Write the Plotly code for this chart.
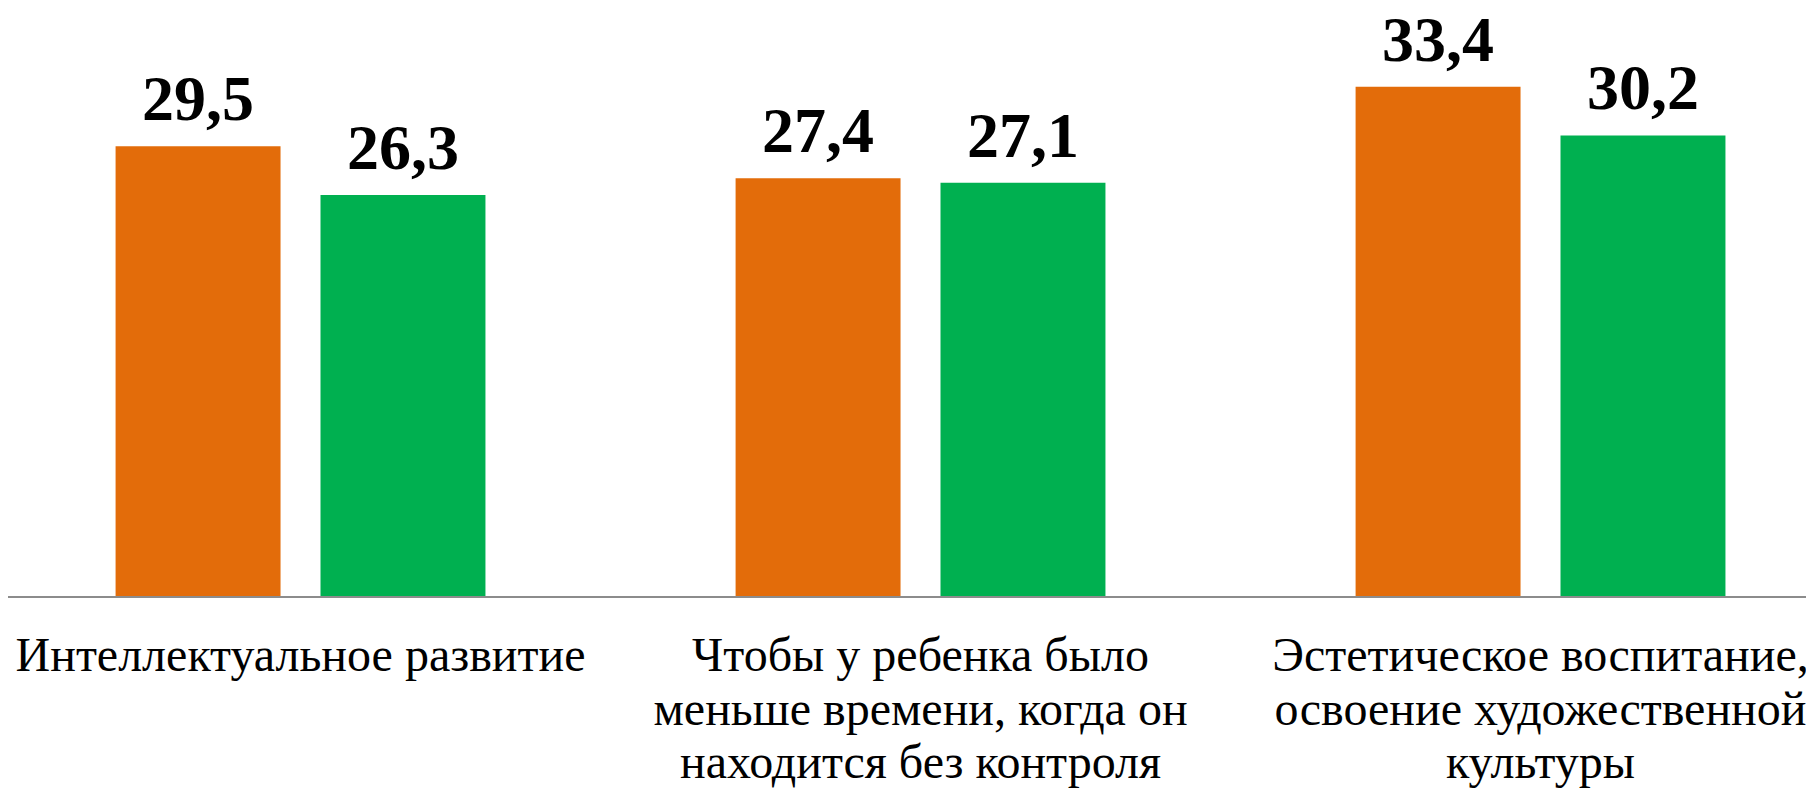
import plotly.graph_objects as go

categories = [
    "Интеллектуальное развитие",
    "Чтобы у ребенка было<br>меньше времени, когда он<br>находится без контроля",
    "Эстетическое воспитание,<br>освоение художественной<br>культуры",
]
series_a = [29.5, 27.4, 33.4]
series_b = [26.3, 27.1, 30.2]

orange = "#E36C0A"
green = "#00B050"
serif = "Times New Roman, Liberation Serif, serif"
bargap = 0.339

# tighter line spacing than plotly's default: small base size, big glyphs
ticktext = ["<br>".join(f"<span style='font-size:48px'>{ln}</span>" for ln in c.split("<br>"))
            for c in categories]

fig = go.Figure()
series = [(series_a, orange), (series_b, green)]
slot = (1 - bargap) / len(series)
for k, (vals, col) in enumerate(series):
    fig.add_trace(go.Bar(
        x=categories, y=vals,
        marker=dict(color=col, line=dict(width=0)),
    ))
    # value labels sit a bit higher than plotly's "outside" text
    for i, v in enumerate(vals):
        fig.add_annotation(
            x=i + (k - (len(series) - 1) / 2) * slot, y=v,
            text=f"{v:.1f}".replace(".", ","), showarrow=False,
            yanchor="bottom", yshift=10,
            font=dict(family=serif, size=64, color="black", weight="bold"),
        )

fig.update_layout(
    width=1814, height=789,
    margin=dict(l=0, r=0, t=0, b=201),
    paper_bgcolor="white", plot_bgcolor="white",
    barmode="group", bargap=bargap, bargroupgap=0.195,
    showlegend=False,
    font=dict(family=serif, color="black"),
)
fig.update_xaxes(
    range=[-0.4718, 2.454],
    tickvals=categories, ticktext=ticktext,
    showline=True, linecolor="#8C8C8C", linewidth=2,
    ticks="", tickfont=dict(family=serif, size=41, color="black"), ticklabelstandoff=24,
    showgrid=False,
)
fig.update_yaxes(range=[0, 38.56], visible=False, showgrid=False)

fig.write_html("out.html")
